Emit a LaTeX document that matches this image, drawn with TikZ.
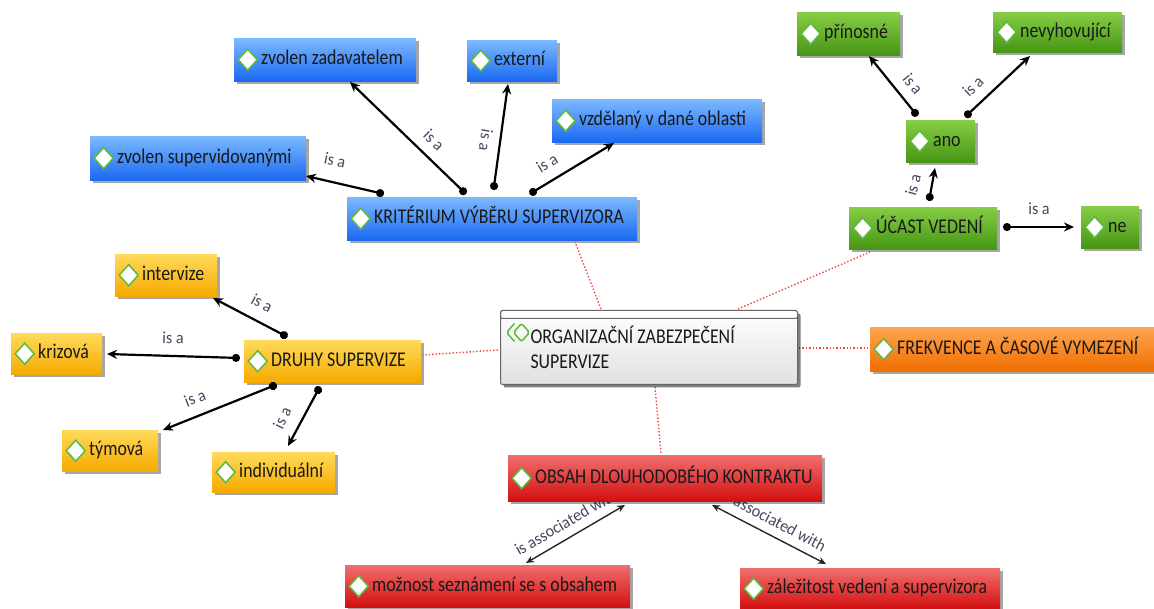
\documentclass[tikz,border=0pt]{standalone}
\usepackage{fontspec}
\setmainfont{Carlito}[FakeStretch=0.85]
\newfontfamily\lblfont{Carlito}[FakeStretch=0.95]
\usetikzlibrary{arrows.meta,shadows}

\definecolor{blueT}{RGB}{125,185,255}
\definecolor{blueB}{RGB}{25,105,240}
\definecolor{greenT}{RGB}{135,205,70}
\definecolor{greenB}{RGB}{70,150,20}
\definecolor{yellowT}{RGB}{255,218,90}
\definecolor{yellowB}{RGB}{245,170,0}
\definecolor{orangeT}{RGB}{255,165,80}
\definecolor{orangeB}{RGB}{240,110,0}
\definecolor{redT}{RGB}{242,110,110}
\definecolor{redB}{RGB}{210,15,15}
\definecolor{iconGreen}{RGB}{95,185,60}
\definecolor{linkRed}{RGB}{240,70,70}
\definecolor{lblGray}{RGB}{70,70,95}

\pgfdeclarelayer{back}
\pgfsetlayers{back,main}

% tight word spacing (align=left would otherwise widen it) and
% left padding that leaves room for the concept icon
\newcommand\tight{\spaceskip=4pt plus 1pt\xspaceskip=4pt plus 1pt\relax}
\newcommand\gap{\tight\hspace*{24pt}}

\begin{document}
\begin{tikzpicture}[x=1pt,y=-1pt,
  iconpen/.style={draw=iconGreen, fill=white, line width=1.5pt, line join=miter},
  conc/.style={rectangle, anchor=north west, inner xsep=3pt, inner ysep=0pt,
    align=left, text height=14pt, text depth=4pt,
    font=\fontsize{21}{25}\selectfont, text=black!90,
    drop shadow={shadow xshift=3pt, shadow yshift=-3pt, opacity=.35, fill=black},
    path picture={\draw[iconpen] ([xshift=4pt]path picture bounding box.west)
      -- ++(9.5pt,10.5pt) -- ++(9.5pt,-10.5pt) -- ++(-9.5pt,-10.5pt) -- cycle;}},
  bluebox/.style={conc, top color=blueT, bottom color=blueB},
  greenbox/.style={conc, top color=greenT, bottom color=greenB},
  yellowbox/.style={conc, top color=yellowT, bottom color=yellowB},
  orangebox/.style={conc, top color=orangeT, bottom color=orangeB},
  redbox/.style={conc, top color=redT, bottom color=redB},
  rootbox/.style={rectangle, anchor=north west, inner xsep=3pt, inner ysep=0pt,
    align=left, font=\fontsize{21}{25}\selectfont, text=black!90,
    draw=black!60, line width=1pt, rounded corners=2pt,
    top color=white, bottom color=black!12,
    drop shadow={shadow xshift=3pt, shadow yshift=-3pt, opacity=.5, fill=black},
    path picture={
      \draw[draw=black!60, fill=white, line width=1pt]
        (path picture bounding box.north west) rectangle
        ([yshift=-8pt]path picture bounding box.north east);
      \draw[iconpen, fill=none] ([shift={(6pt,-22pt)}]path picture bounding box.north west)
        ++(8pt,9pt) -- ++(-8pt,-9pt) -- ++(8pt,-9pt);
      \draw[iconpen, fill=none] ([shift={(13pt,-22pt)}]path picture bounding box.north west)
        -- ++(8pt,9pt) -- ++(8pt,-9pt) -- ++(-8pt,-9pt) -- cycle;}},
  isa/.style={draw=black, line width=2.2pt, {Circle[length=8pt]}-{Stealth[length=10pt,width=9pt]}},
  assoc/.style={draw=black!85, line width=1.4pt, {Stealth[length=8pt,width=7pt]}-{Stealth[length=8pt,width=7pt]}},
  link/.style={draw=linkRed, dotted, line width=1.4pt},
  lbl/.style={font=\lblfont\fontsize{17}{18}\selectfont, text=lblGray, inner sep=0pt},
]
\useasboundingbox (0,0) rectangle (1154,609);

% central topic
\node[rootbox, text width=291pt, minimum height=74pt] (org) at (500,310)
  {\tight\hspace*{27pt}ORGANIZAČNÍ ZABEZPEČENÍ\\\hspace*{27pt}SUPERVIZE};

% supervisor selection criteria
\node[bluebox, text width=176pt, minimum height=43pt] (zz) at (234,38) {\gap zvolen zadavatelem};
\node[bluebox, text width=84pt, minimum height=41pt] (ext) at (467,40) {\gap externí};
\node[bluebox, text width=204pt, minimum height=43pt] (vzd) at (552,99) {\gap vzdělaný v dané oblasti};
\node[bluebox, text width=210pt, minimum height=44pt] (zsv) at (90,136) {\gap zvolen supervidovanými};
\node[bluebox, text width=284pt, minimum height=43pt] (krit) at (347,197) {\gap KRITÉRIUM VÝBĚRU SUPERVIZORA};

% management participation
\node[greenbox, text width=97pt, minimum height=43pt] (prin) at (797,12) {\gap přínosné};
\node[greenbox, text width=123pt, minimum height=40pt] (nev) at (993,12) {\gap nevyhovující};
\node[greenbox, text width=63pt, minimum height=42pt] (ano) at (906,120) {\gap ano};
\node[greenbox, text width=142pt, minimum height=42pt] (ucast) at (849,207) {\gap ÚČAST VEDENÍ};
\node[greenbox, text width=52pt, minimum height=42pt] (ne) at (1081,206) {\gap ne};

% kinds of supervision
\node[yellowbox, text width=96pt, minimum height=42pt] (interv) at (115,254) {\gap intervize};
\node[yellowbox, text width=85pt, minimum height=41pt] (kriz) at (11,333) {\gap krizová};
\node[yellowbox, text width=171pt, minimum height=42pt] (druhy) at (244,340) {\gap DRUHY SUPERVIZE};
\node[yellowbox, text width=90pt, minimum height=41pt] (tym) at (62,430) {\gap týmová};
\node[yellowbox, text width=117pt, minimum height=40pt] (indiv) at (212,452) {\gap individuální};

% frequency
\node[orangebox, text width=278pt, minimum height=44pt] (frek) at (870,327) {\gap FREKVENCE A ČASOVÉ VYMEZENÍ};

% long-term contract
\node[redbox, text width=308pt, minimum height=46pt] (obsah) at (508,455) {\gap OBSAH DLOUHODOBÉHO KONTRAKTU};
\node[redbox, text width=279pt, minimum height=42pt] (moz) at (345,565) {\gap možnost seznámení se s obsahem};
\node[redbox, text width=254pt, minimum height=41pt] (zal) at (740,568) {\gap záležitost vedení a supervizora};

% links from the central topic, kept behind the boxes
\begin{pgfonlayer}{back}
\draw[link] ([shift={(101,-1)}]org.north west) -- ([shift={(228,45)}]krit.north west);
\draw[link] ([shift={(238,-1)}]org.north west) -- ([shift={(21,45)}]ucast.north west);
\draw[link] ([shift={(-2,40)}]org.north west) -- ([shift={(179,15)}]druhy.north west);
\draw[link] ([shift={(299,38)}]org.north west) -- ([shift={(-2,21)}]frek.north west);
\draw[link] ([shift={(155,77)}]org.north west) -- ([shift={(153,-2)}]obsah.north west);

% association links; their labels run in under the contract box
\draw[assoc] ([shift={(117,50)}]obsah.north west) -- ([shift={(181,-2)}]moz.north west);
\draw[assoc] ([shift={(204,50)}]obsah.north west) -- ([shift={(86,-4)}]zal.north west);
\node[lbl, rotate=30] (l13) at (566,522) {is associated with};
\node[lbl, rotate=-28] (l14) at (774,520) {is associated with};
\end{pgfonlayer}

% is-a relations
\draw[isa] ([shift={(119,-3)}]krit.north west) -- ([shift={(116,44)}]zz.north west);
\draw[isa] ([shift={(146.5,-7)}]krit.north west) -- ([shift={(41,44)}]ext.north west);
\draw[isa] ([shift={(182.6,-3)}]krit.north west) -- ([shift={(62,44)}]vzd.north west);
\draw[isa] ([shift={(37,-3)}]krit.north west) -- ([shift={(216,40)}]zsv.north west);
\node[lbl, rotate=-44] (l1) at (434,140) {is a};
\node[lbl, rotate=-99] (l2) at (486,140) {is a};
\node[lbl, rotate=31] (l3) at (547,163) {is a};
\node[lbl, rotate=-12] (l4) at (335,160) {is a};

\draw[isa] ([shift={(11.5,-4)}]ano.north west) -- ([shift={(72,44)}]prin.north west);
\draw[isa] ([shift={(59,-3)}]ano.north west) -- ([shift={(37,44)}]nev.north west);
\draw[isa] ([shift={(80,-6)}]ucast.north west) -- ([shift={(29,48)}]ano.north west);
\draw[isa] ([shift={(154,20)}]ucast.north west) -- ([shift={(-7,21)}]ne.north west);
\node[lbl, rotate=-51] (l5) at (913,84) {is a};
\node[lbl, rotate=43] (l6) at (973,86) {is a};
\node[lbl, rotate=75] (l7) at (913,185) {is a};
\node[lbl] (l8) at (1039,209) {is a};

\draw[isa] ([shift={(43.5,-3)}]druhy.north west) -- ([shift={(98,44)}]interv.north west);
\draw[isa] ([shift={(-4,18)}]druhy.north west) -- ([shift={(96,21)}]kriz.north west);
\draw[isa] ([shift={(32.7,44.5)}]druhy.north west) -- ([shift={(101,0)}]tym.north west);
\draw[isa] ([shift={(76,46.5)}]druhy.north west) -- ([shift={(76,-6)}]indiv.north west);
\node[lbl, rotate=-28] (l9) at (262,303) {is a};
\node[lbl, rotate=-2] (l10) at (173,338) {is a};
\node[lbl, rotate=22] (l11) at (195,398) {is a};
\node[lbl, rotate=64] (l12) at (282,418) {is a};
\end{tikzpicture}
\end{document}
